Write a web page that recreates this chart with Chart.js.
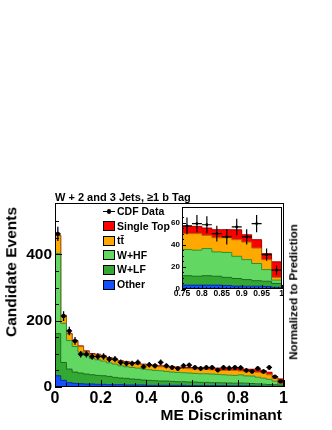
<!DOCTYPE html>
<html><head><meta charset="utf-8">
<script src="https://cdn.jsdelivr.net/npm/chart.js@4/dist/chart.umd.min.js"></script>
<style>
html,body{margin:0;padding:0;background:#fff;}
#wrap{position:relative;width:332px;height:430px;overflow:hidden;font-family:"Liberation Sans",Arial,Helvetica,sans-serif;}
canvas{position:absolute;}
#main{left:0;top:0;}
#inset{left:150px;top:195px;}
.lbl{position:absolute;font-weight:bold;color:#000;white-space:nowrap;line-height:1;}
.rot{transform:translate(-50%,-50%) rotate(-90deg);}
.box{position:absolute;width:12px;height:10px;border:1px solid #000;box-sizing:border-box;}
.lgt{position:absolute;font-weight:bold;font-size:10.5px;line-height:1;white-space:nowrap;}
</style></head><body>
<div id="wrap">
<canvas id="main" width="332" height="430"></canvas>
<canvas id="inset" width="140" height="110"></canvas>
<div class="lbl" style="left:55px;top:191.5px;font-size:11px;">W + 2 and 3 Jets, ≥1 b Tag</div>
<div class="lbl rot" style="left:10.5px;top:272px;font-size:15.5px;">Candidate Events</div>
<div class="lbl" style="right:50px;top:407px;font-size:15.5px;">ME Discriminant</div>
<div class="lbl rot" style="left:294px;top:292px;font-size:11.5px;">Normalized to Prediction</div>
<div id="legend"></div>
</div>
<script>
// ---- data ----
const binEdges = Array.from({length: 41}, (_, i) => i / 40); // ME discriminant bin edges, 40 bins of 0.025
const other     = [34,20,13,11,10,9,9,8,8,7, 7,7,6,6,6,6,5,5,5,5, 5,5,5,4,4,4,4,4,4,4, 3.5,3.5,3.5,3.5,3.2,2.6,2.5,2.5,2.3,1.5];
const wlf       = [127,54,41,34,32,30,28,27,26,25, 22,20,20,18,17,15,15,14,13,13, 12,11,11,11,11,10,10,9,9,8.5, 8.5,8,8.5,8,7.3,6.9,6,5,4.7,3.5];
const whf       = [242,118,86,77,63,56,49,47,44,41, 40,37,35,35,34,33,32,31,31,29, 28,28,27,27,26,26,26,26,25,24.5, 23.6,23.5,24.5,22,22.5,20,18,15.5,10.5,3];
const ttbar     = [54,23,20,17,17,12,13,15,14,14, 13,13,14,13,12,13,13,13,12,13, 13,13,13,13,13,13,13,13,13,13, 14.4,15,11.9,12.8,13.3,15,15.9,14,9,2.5];
const singleTop = [1,1,1.5,1.5,2,2,2,2,2,2, 2,2,2,2,2,2,2,3,3,3, 3,3,3,4,4,5,4,5,6,6, 6.5,6.5,6.6,7.2,7.2,8.9,6.5,7.5,5.4,14];
const cdfData   = [462,214,169,139,99,99,92,92,92,84, 84,74,71,71,74,61,67,64,74,64, 59,56,64,66,59,56,59,59,51,59, 57,59,58,50,47,56,47,59,31,17];
const mainXTicks = [0, 0.2, 0.4, 0.6, 0.8, 1];
const mainYTicks = [0, 200, 400];
const insetXTicks = [0.75, 0.8, 0.85, 0.9, 0.95, 1];
const insetYTicks = [0, 20, 40, 60];

const FONT = '"Liberation Sans", Arial, Helvetica, sans-serif';
const components = [
  {label: 'Other',      vals: other,     fill: '#1450ff', line: '#0a2a9a'},
  {label: 'W+LF',       vals: wlf,       fill: '#33a833', line: '#1d6b1d'},
  {label: 'W+HF',       vals: whf,       fill: '#62d862', line: '#2f8f2f'},
  {label: 'tt\u0304',   vals: ttbar,     fill: '#ffa800', line: '#a86400'},
  {label: 'Single Top', vals: singleTop, fill: '#ff0000', line: '#a00000'}
];

function stepPoints(vals, i0, i1) {
  const pts = [];
  for (let i = i0; i < i1; i++) pts.push({x: binEdges[i], y: vals[i]});
  pts.push({x: binEdges[i1], y: vals[i1 - 1]});
  return pts;
}
function centerPoints(vals, i0, i1) {
  const pts = [];
  for (let i = i0; i < i1; i++) pts.push({x: (binEdges[i] + binEdges[i + 1]) / 2, y: vals[i]});
  return pts;
}
function buildDatasets(i0, i1, pr) {
  const ds = components.map((c, k) => ({
    label: c.label, data: stepPoints(c.vals, i0, i1), stepped: true,
    backgroundColor: c.fill, borderColor: c.line, borderWidth: 1,
    pointRadius: 0, fill: k === 0 ? 'origin' : '-1', stack: 'mc', order: 1
  }));
  ds.push({label: 'CDF Data', data: centerPoints(cdfData, i0, i1), showLine: false,
    pointRadius: pr, pointBackgroundColor: '#000', pointBorderWidth: 0, stack: 'data', order: -1});
  return ds;
}
const near = (v, list) => list.some(t => Math.abs(t - v) < 1e-6);
const fmt = v => String(Math.round(v * 1000) / 1000);

function errPlugin(i0, i1, lw) {
  return {id: 'errbars', afterDatasetsDraw(chart) {
    const {ctx, scales: {x, y}, chartArea: a} = chart;
    ctx.save();
    ctx.beginPath(); ctx.rect(a.left, a.top, a.right - a.left, a.bottom - a.top); ctx.clip();
    ctx.strokeStyle = '#000'; ctx.lineWidth = lw; ctx.beginPath();
    for (let i = i0; i < i1; i++) {
      const n = cdfData[i], e = Math.sqrt(n);
      const xc = x.getPixelForValue((binEdges[i] + binEdges[i + 1]) / 2);
      ctx.moveTo(xc, y.getPixelForValue(n - e)); ctx.lineTo(xc, y.getPixelForValue(n + e));
      const yc = y.getPixelForValue(n);
      ctx.moveTo(x.getPixelForValue(binEdges[i]), yc); ctx.lineTo(x.getPixelForValue(binEdges[i + 1]), yc);
    }
    ctx.stroke(); ctx.restore();
  }};
}
function framePlugin(xMajor, yMajor, lenMaj, lenMin, whiteBg) {
  return {id: 'frame',
    beforeDatasetsDraw(chart) {
      if (!whiteBg) return;
      const {ctx, chartArea: a} = chart;
      ctx.save(); ctx.fillStyle = '#fff'; ctx.fillRect(a.left, a.top, a.right - a.left, a.bottom - a.top); ctx.restore();
    },
    afterDatasetsDraw(chart) {
      const {ctx, chartArea: a, scales: {x, y}} = chart;
      ctx.save(); ctx.strokeStyle = '#000'; ctx.lineWidth = 1; ctx.beginPath();
      x.ticks.forEach(t => {
        const px = Math.round(x.getPixelForValue(t.value)) + 0.5;
        const l = near(t.value, xMajor) ? lenMaj : lenMin;
        ctx.moveTo(px, a.bottom); ctx.lineTo(px, a.bottom - l);
      });
      y.ticks.forEach(t => {
        if (t.value > y.max - 1e-9 && !near(t.value, yMajor)) return;
        const py = Math.round(y.getPixelForValue(t.value)) + 0.5;
        const l = near(t.value, yMajor) ? lenMaj : lenMin;
        ctx.moveTo(a.left, py); ctx.lineTo(a.left + l, py);
      });
      ctx.stroke();
      ctx.strokeRect(Math.round(a.left) + 0.5, Math.round(a.top) + 0.5, Math.round(a.right - a.left) - 1, Math.round(a.bottom - a.top) - 1);
      ctx.restore();
    }};
}
const noGrid = {display: false, drawTicks: false, tickLength: 0};

// ---- main chart ----
new Chart(document.getElementById('main'), {
  type: 'line',
  data: {datasets: buildDatasets(0, 40, 2.2)},
  options: {
    responsive: false, animation: false, events: [],
    layout: {padding: {left: 0, top: 203, right: 48.5, bottom: 0}},
    plugins: {legend: {display: false}, tooltip: {enabled: false}},
    scales: {
      x: {type: 'linear', min: 0, max: 1, grid: noGrid, border: {display: false},
        ticks: {stepSize: 0.05, autoSkip: false, maxRotation: 0, padding: 2, color: '#000',
          font: {family: FONT, size: 16, weight: 'bold'},
          callback: v => near(v, mainXTicks) ? fmt(v) : ''},
        afterFit: s => { s.height = 43; }},
      y: {type: 'linear', min: 0, max: 555, stacked: true, grid: noGrid, border: {display: false},
        ticks: {stepSize: 50, autoSkip: false, padding: 3, color: '#000',
          font: {family: FONT, size: 15.5, weight: 'bold'},
          callback: v => near(v, mainYTicks) ? fmt(v) : ''},
        afterFit: s => { s.width = 55; }}
    }
  },
  plugins: [errPlugin(0, 40, 1.3), framePlugin(mainXTicks, mainYTicks, 7, 4, false)]
});

// ---- inset chart (0.75 - 1) ----
new Chart(document.getElementById('inset'), {
  type: 'line',
  data: {datasets: buildDatasets(30, 40, 1.4)},
  options: {
    responsive: false, animation: false, events: [],
    layout: {padding: {left: 0, top: 12, right: 8.5, bottom: 0}},
    plugins: {legend: {display: false}, tooltip: {enabled: false}},
    scales: {
      x: {type: 'linear', min: 0.75, max: 1, grid: noGrid, border: {display: false},
        ticks: {stepSize: 0.01, autoSkip: false, maxRotation: 0, padding: 0, color: '#000',
          font: {family: FONT, size: 8.5, weight: 'bold'},
          callback: v => near(v, insetXTicks) ? fmt(v) : ''},
        afterFit: s => { s.height = 16; }},
      y: {type: 'linear', min: 0, max: 74, stacked: true, grid: noGrid, border: {display: false},
        ticks: {stepSize: 5, autoSkip: false, padding: 2, color: '#000',
          font: {family: FONT, size: 8, weight: 'bold'},
          callback: v => near(v, insetYTicks) ? fmt(v) : ''},
        afterFit: s => { s.width = 32; }}
    }
  },
  plugins: [errPlugin(30, 40, 1.2), framePlugin(insetXTicks, insetYTicks, 4, 2, true)]
});

// ---- legend (inside the main frame) ----
const legendRows = [{label: 'CDF Data', data: true}].concat(components.slice().reverse());
const lg = document.getElementById('legend');
legendRows.forEach((r, i) => {
  const cy = 211.5 + i * 14.6;
  if (r.data) {
    const ln = document.createElement('div');
    ln.style.cssText = `position:absolute;left:103px;top:${cy - 0.6}px;width:12px;height:1.3px;background:#000;`;
    const dt = document.createElement('div');
    dt.style.cssText = `position:absolute;left:106.8px;top:${cy - 2.2}px;width:4.4px;height:4.4px;border-radius:50%;background:#000;`;
    lg.appendChild(ln); lg.appendChild(dt);
  } else {
    const b = document.createElement('div');
    b.className = 'box';
    b.style.left = '103px'; b.style.top = (cy - 5) + 'px'; b.style.background = r.fill;
    lg.appendChild(b);
  }
  const t = document.createElement('div');
  t.className = 'lgt';
  t.style.left = '117px'; t.style.top = (cy - 5.5) + 'px';
  t.textContent = r.label;
  lg.appendChild(t);
});
</script>
</body></html>
